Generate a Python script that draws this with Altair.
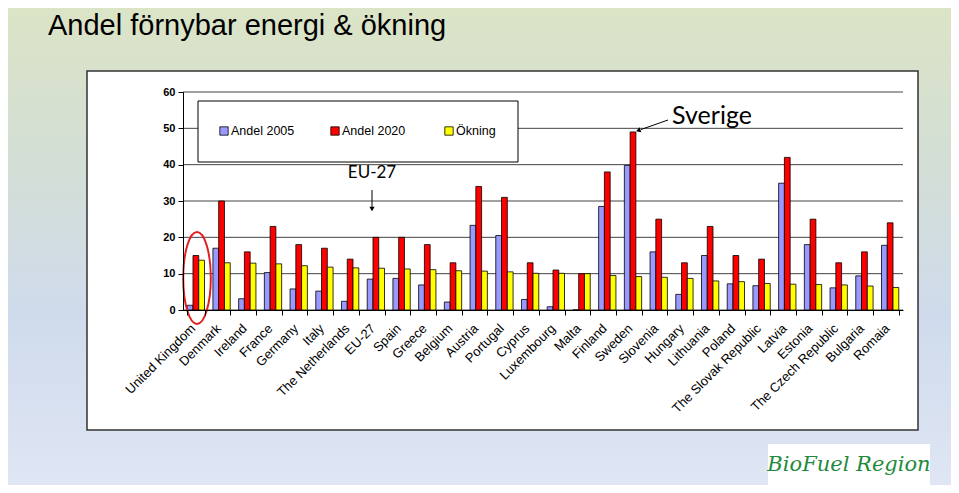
import altair as alt
import pandas as pd

countries = ["United Kingdom", "Denmark", "Ireland", "France", "Germany", "Italy",
             "The Netherlands", "EU-27", "Spain", "Greece", "Belgium", "Austria",
             "Portugal", "Cyprus", "Luxembourg", "Malta", "Finland", "Sweden",
             "Slovenia", "Hungary", "Lithuania", "Poland", "The Slovak Republic",
             "Latvia", "Estonia", "The Czech Republic", "Bulgaria", "Romaia"]
andel_2005 = [1.3, 17.0, 3.1, 10.3, 5.8, 5.2, 2.4, 8.5, 8.7, 6.9, 2.2, 23.3,
              20.5, 2.9, 0.9, 0.0, 28.5, 39.8, 16.0, 4.3, 15.0, 7.2, 6.7,
              34.9, 18.0, 6.1, 9.4, 17.8]
andel_2020 = [15, 30, 16, 23, 18, 17, 14, 20, 20, 18, 13, 34, 31, 13, 11, 10,
              38, 49, 25, 13, 23, 15, 14, 42, 25, 13, 16, 24]
okning = [13.7, 13.0, 12.9, 12.7, 12.2, 11.8, 11.6, 11.5, 11.3, 11.1, 10.8, 10.7,
          10.5, 10.1, 10.1, 10.0, 9.5, 9.2, 9.0, 8.7, 8.0, 7.8, 7.3, 7.1, 7.0,
          6.9, 6.6, 6.2]
series = ["Andel 2005", "Andel 2020", "Ökning"]
colors = ["#9999FF", "#FF0000", "#FFFF00"]
y_ticks = [0, 10, 20, 30, 40, 50, 60]
title_text = "Andel förnybar energi & ökning"

rows = []
for i, c in enumerate(countries):
    for s, vals in zip(series, [andel_2005, andel_2020, okning]):
        rows.append({"country": c, "series": s, "value": vals[i]})
df = pd.DataFrame(rows)

# layout (page pixel coordinates of the plot area)
OX, OY = 183, 92
W, H = 720, 218


def px(x):
    return x - OX


def py(y):
    return y - OY


def one():
    return pd.DataFrame({"k": [0]})


x_scale = alt.Scale(domain=countries, paddingInner=0.327, paddingOuter=0.1635)
y_scale = alt.Scale(domain=[0, 60], nice=False, zero=True)
y_axis = alt.Axis(values=y_ticks, grid=False, title=None, domainColor="black",
                  tickColor="black", tickSize=5, labelPadding=3,
                  labelFont="Liberation Sans", labelFontWeight="bold",
                  labelFontSize=11, labelColor="black", zindex=1)

bg = alt.Chart(one()).mark_rect(
    color=alt.Gradient(gradient="linear", x1=0, x2=0, y1=0, y2=1,
                       stops=[alt.GradientStop(color="#DCE5C4", offset=0),
                              alt.GradientStop(color="#D3DED6", offset=0.35),
                              alt.GradientStop(color="#CFDBEC", offset=0.65),
                              alt.GradientStop(color="#E0E6F4", offset=1)])
).encode(x=alt.value(px(0) - 8), x2=alt.value(px(959)), y=alt.value(py(0) - 8), y2=alt.value(py(493)))

frame = alt.Chart(one()).mark_rect(fill="white", stroke="#333333", strokeWidth=1.5).encode(
    x=alt.value(px(87)), x2=alt.value(px(918)), y=alt.value(py(71)), y2=alt.value(py(430)))

title = alt.Chart(one()).mark_text(text=title_text, font="Liberation Sans", fontSize=29, align="left",
                                   baseline="alphabetic", color="black").encode(
    x=alt.value(px(48)), y=alt.value(py(35)))

grid = alt.Chart(pd.DataFrame({"v": y_ticks})).mark_rule(color="#444444", strokeWidth=1).encode(
    y=alt.Y("v:Q", scale=y_scale, axis=y_axis), x=alt.value(0), x2=alt.value(W))

legend_box = alt.Chart(one()).mark_rect(fill="white", stroke="black", strokeWidth=1).encode(
    x=alt.value(px(198)), x2=alt.value(px(518)), y=alt.value(py(101)), y2=alt.value(py(162)))

legend_layers = []
sq_x = [224, 335, 449]
for s, col, sx in zip(series, colors, sq_x):
    legend_layers.append(alt.Chart(one()).mark_square(size=70, fill=col, stroke="black",
                                                      strokeWidth=0.8, opacity=1).encode(
        x=alt.value(px(sx)), y=alt.value(py(131))))
    legend_layers.append(alt.Chart(one()).mark_text(text=s, font="Liberation Sans", fontSize=12.5,
                                                    align="left", baseline="middle", color="black").encode(
        x=alt.value(px(sx + 7)), y=alt.value(py(131))))

bars = alt.Chart(df).mark_bar(stroke="black", strokeWidth=0.8).encode(
    x=alt.X("country:N", sort=countries, scale=x_scale,
            axis=alt.Axis(title=None, labelAngle=-45, labelAlign="right", labelBaseline="middle",
                          labelFont="Liberation Sans", labelFontSize=13, labelColor="black",
                          labelPadding=11, labelOffset=-3, labelOverlap=False, labelLimit=0,
                          tickBand="extent", tickSize=5, tickColor="black",
                          domainColor="black", zindex=1)),
    xOffset=alt.XOffset("series:N", sort=series, scale=alt.Scale(paddingInner=0, paddingOuter=0)),
    y=alt.Y("value:Q", scale=y_scale, axis=y_axis),
    color=alt.Color("series:N", scale=alt.Scale(domain=series, range=colors), legend=None),
)

# annotations
eu_text = alt.Chart(one()).mark_text(text="EU-27", font="Lato", fontSize=17, align="center",
                                     baseline="alphabetic", color="black").encode(
    x=alt.value(px(372)), y=alt.value(py(178)))
eu_line = alt.Chart(one()).mark_rule(color="black", strokeWidth=1).encode(
    x=alt.value(px(372)), y=alt.value(py(190)), y2=alt.value(py(208)))
eu_head = alt.Chart(one()).mark_point(shape="triangle-down", size=28, filled=True, color="black",
                                      opacity=1).encode(x=alt.value(px(372)), y=alt.value(py(209)))

sv_text = alt.Chart(one()).mark_text(text="Sverige", font="Lato", fontSize=25, align="center",
                                     baseline="alphabetic", color="black").encode(
    x=alt.value(px(712)), y=alt.value(py(124)))
sv_line = alt.Chart(one()).mark_rule(color="black", strokeWidth=1).encode(
    x=alt.value(px(668)), y=alt.value(py(120)), x2=alt.value(px(641)), y2=alt.value(py(129.5)))
sv_head = alt.Chart(one()).mark_point(shape="triangle", size=28, filled=True, color="black",
                                      angle=250.5, opacity=1).encode(
    x=alt.value(px(639)), y=alt.value(py(130.3)))

ellipse = alt.Chart(one()).mark_point(
    shape="M -0.3 0 A 0.3 1 0 1 0 0.3 0 A 0.3 1 0 1 0 -0.3 0 Z",
    size=8464, filled=False, color="#E02020", strokeWidth=2, opacity=1).encode(
    x=alt.value(px(197)), y=alt.value(py(278)))

logo_box = alt.Chart(one()).mark_rect(fill="white").encode(
    x=alt.value(px(768)), x2=alt.value(px(930)), y=alt.value(py(444)), y2=alt.value(py(485)))
logo_text = alt.Chart(one()).mark_text(text="BioFuel Region", font="DejaVu Serif", fontStyle="italic",
                                       fontSize=21, align="center", baseline="middle",
                                       color="#1F8A3C").encode(
    x=alt.value(px(849)), y=alt.value(py(465)))

chart = alt.layer(
    bg, frame, title, grid, legend_box, *legend_layers, bars,
    eu_text, eu_line, eu_head, sv_text, sv_line, sv_head, ellipse, logo_box, logo_text
).properties(
    width=W, height=H,
    padding={"left": 175, "top": 84, "right": 48, "bottom": 175},
    autosize="none",
).configure_view(stroke=None).configure(background="white")

chart.save("out.html", embed_options={"renderer": "svg", "actions": False})
